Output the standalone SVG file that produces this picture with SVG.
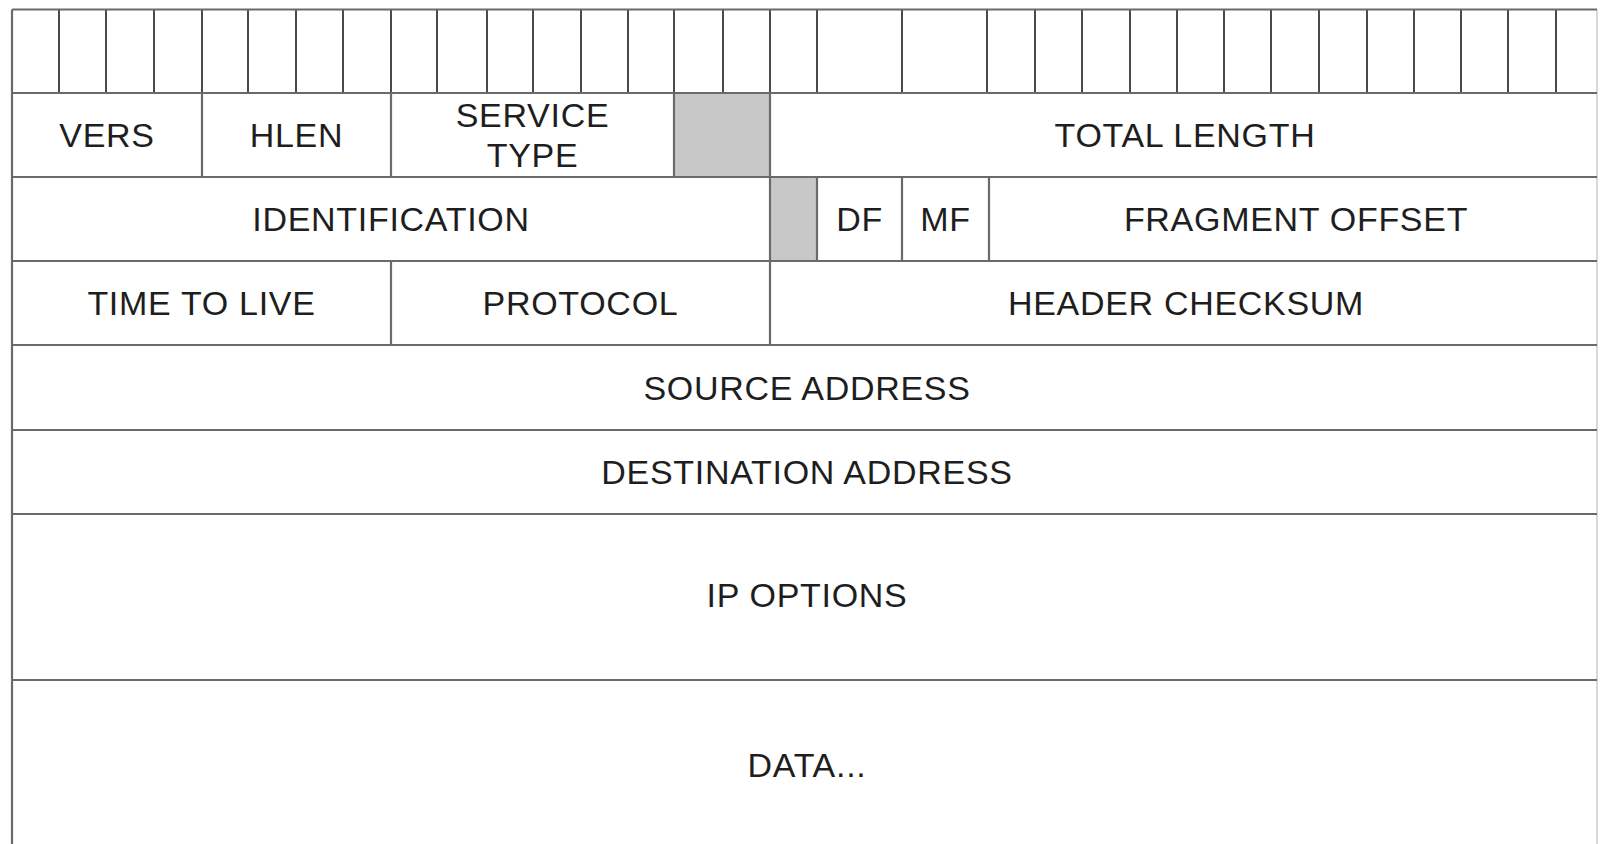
<svg xmlns="http://www.w3.org/2000/svg" width="1602" height="844" viewBox="0 0 1602 844">
  <style>
    .ln { stroke: #6a6a6a; stroke-width: 2.2; fill: none; }
    .bit { stroke: #4a4a4a; stroke-width: 2; fill: none; }
    .edge { stroke: #d8d8d8; stroke-width: 2; fill: none; }
    .shade { fill: #c8c8c8; }
    .t { font-family: "Liberation Sans", Arial, sans-serif; font-size: 34px; letter-spacing: 0.7px; fill: #1e1e1e; text-anchor: middle; }
  </style>
  <rect x="0" y="0" width="1602" height="844" fill="#ffffff"/>

  <g id="bit-ruler">
    <path class="bit" d="M59 9.5V93 M106 9.5V93 M154 9.5V93 M202 9.5V93 M248 9.5V93 M296 9.5V93 M343 9.5V93 M391 9.5V93 M437 9.5V93 M487 9.5V93 M533 9.5V93 M581 9.5V93 M628 9.5V93 M674 9.5V93 M723 9.5V93 M770 9.5V93 M817 9.5V93 M902 9.5V93 M987 9.5V93 M1035 9.5V93 M1082 9.5V93 M1130 9.5V93 M1177 9.5V93 M1224 9.5V93 M1271 9.5V93 M1319 9.5V93 M1367 9.5V93 M1414 9.5V93 M1461 9.5V93 M1508 9.5V93 M1556 9.5V93"/>
  </g>

  <g id="vers"><text class="t" x="107" y="147">VERS</text></g>
  <g id="hlen"><text class="t" x="296.5" y="147">HLEN</text></g>
  <g id="service-type"><text class="t" x="532.5" y="127">SERVICE</text><text class="t" x="532.5" y="167">TYPE</text></g>
  <g id="reserved-1"><rect class="shade" x="674" y="93" width="96" height="84"/></g>
  <g id="total-length"><text class="t" x="1185" y="147">TOTAL LENGTH</text></g>

  <g id="identification"><text class="t" x="391" y="230.5">IDENTIFICATION</text></g>
  <g id="reserved-2"><rect class="shade" x="770" y="177" width="47" height="84"/></g>
  <g id="df"><text class="t" x="859.5" y="230.5">DF</text></g>
  <g id="mf"><text class="t" x="945.5" y="230.5">MF</text></g>
  <g id="fragment-offset"><text class="t" x="1296" y="230.5">FRAGMENT OFFSET</text></g>

  <g id="time-to-live"><text class="t" x="201.5" y="315">TIME TO LIVE</text></g>
  <g id="protocol"><text class="t" x="580.5" y="315">PROTOCOL</text></g>
  <g id="header-checksum"><text class="t" x="1186" y="315">HEADER CHECKSUM</text></g>

  <g id="source-address"><text class="t" x="807" y="400">SOURCE ADDRESS</text></g>
  <g id="destination-address"><text class="t" x="807" y="484">DESTINATION ADDRESS</text></g>
  <g id="ip-options"><text class="t" x="807" y="607">IP OPTIONS</text></g>
  <g id="data"><text class="t" x="807" y="777">DATA...</text></g>

  <g id="grid-lines">
    <path class="edge" d="M1597 9.5V844"/>
    <path class="ln" d="M12 9.5H1597 M12 93H1597 M12 177H1597 M12 261H1597 M12 345H1597 M12 430H1597 M12 514H1597 M12 680H1597"/>
    <path class="ln" d="M12 9.5V844"/>
    <path class="ln" d="M202 93V177 M391 93V177 M674 93V177 M770 93V345 M817 177V261 M902 177V261 M989 177V261 M391 261V345"/>
  </g>
</svg>
